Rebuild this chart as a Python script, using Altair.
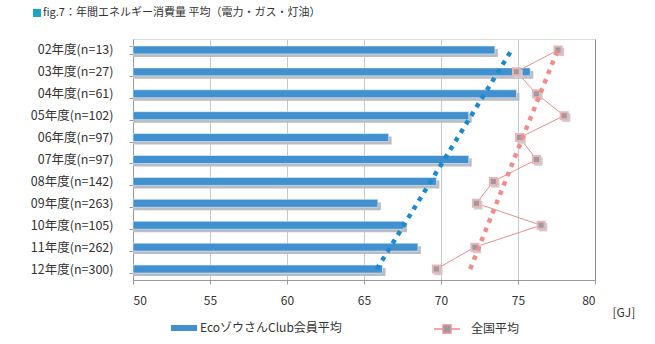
import altair as alt
import pandas as pd

cats = ["02年度(n=13)", "03年度(n=27)", "04年度(n=61)", "05年度(n=102)", "06年度(n=97)",
        "07年度(n=97)", "08年度(n=142)", "09年度(n=263)", "10年度(n=105)", "11年度(n=262)",
        "12年度(n=300)"]
eco = [73.5, 75.8, 74.9, 71.8, 66.6, 71.8, 69.7, 65.9, 67.6, 68.5, 66.2]
nat = [77.6, 74.9, 76.2, 78.0, 75.1, 76.2, 73.4, 72.3, 76.5, 72.2, 69.7]
s1 = "EcoゾウさんClub会員平均"
s2 = "全国平均"
x_ticks = [50, 55, 60, 65, 70, 75, 80]
title_text = "fig.7：年間エネルギー消費量 平均（電力・ガス・灯油）"

FONT = "Noto Sans CJK JP"
BLUE = "#4190cf"
SHADOW = "#b9bdc3"
BLUE_TREND = "#1a8bcb"
RED_TREND = "#f08c8a"
RED_LINE = "#e8908c"
MARK_FILL = "#9a9aa2"
MARK_STROKE = "#eab4b4"

df = pd.DataFrame({"cat": cats, "idx": list(range(len(cats))), "eco": eco, "nat": nat,
                   "s1": [s1] * len(cats), "s2": [s2] * len(cats)})

base = alt.Chart(df)

xscale = alt.Scale(domain=[50, 80], nice=False, zero=False)
xaxis = alt.Axis(values=x_ticks, grid=True, tickSize=4, tickColor="#999999", domainColor="#999999",
                 gridColor={"condition": {"test": "datum.value === 80", "value": "#8a8a8a"},
                            "value": "#c8c8c8"},
                 labelFontSize=12, labelColor="#333333", labelFont=FONT, labelPadding=11,
                 title="[GJ]", titleFont=FONT, titleFontSize=12, titleFontWeight="normal",
                 titleColor="#333333", titleX=479, titleY=32, titleAlign="left",
                 titleBaseline="middle", titleAngle=0)


def X(field):
    return alt.X(field, scale=xscale, axis=xaxis)


band = alt.Scale(domain=cats, paddingInner=0.636, paddingOuter=0.318)
yaxis = alt.Axis(title=None, tickBand="extent", tickSize=4, tickColor="#999999",
                 domainColor="#999999", labelFontSize=12.5, labelColor="#333333",
                 labelFont=FONT, labelPadding=16, grid=False)

shadow = base.mark_bar(color=SHADOW, xOffset=3, yOffset=3).encode(
    y=alt.Y("cat:N", scale=band, axis=yaxis),
    x=X("eco:Q"),
    x2=alt.datum(50),
)

bars = base.mark_bar(stroke="#eaf2fa", strokeWidth=0.6).encode(
    y=alt.Y("cat:N", scale=band, axis=None),
    x=X("eco:Q"),
    x2=alt.datum(50),
    fill=alt.Fill("s1:N", scale=alt.Scale(domain=[s1], range=[BLUE]),
                  legend=alt.Legend(orient="none", legendX=38, legendY=276, title=None,
                                    padding=0, symbolType="M-1,-0.23H1V0.23H-1Z",
                                    symbolSize=676, symbolStrokeWidth=0, labelOffset=3,
                                    labelFont=FONT, labelFontSize=12, labelColor="#333333")),
)

yq = alt.Scale(domain=[-0.5, 10.5], reverse=True, nice=False, zero=False)

natline = base.mark_line(strokeWidth=1).encode(
    y=alt.Y("idx:Q", scale=yq, axis=None),
    x=X("nat:Q"),
    order="idx:Q",
    stroke=alt.Stroke("s2:N", scale=alt.Scale(domain=[s2], range=[RED_LINE]),
                      legend=alt.Legend(orient="none", legendX=300, legendY=276, title=None,
                                        padding=0,
                                        symbolType="M-1,0H-0.3M0.3,0H1M-0.3,-0.3H0.3V0.3H-0.3Z",
                                        symbolSize=676, symbolStrokeWidth=1.5,
                                        symbolFillColor=MARK_FILL, labelOffset=10,
                                        labelFont=FONT, labelFontSize=12,
                                        labelColor="#333333")),
)

mshadow = base.mark_square(size=70, color="#cdcdd2", opacity=1, xOffset=2, yOffset=2).encode(
    y=alt.Y("idx:Q", scale=yq, axis=None),
    x=X("nat:Q"),
)

markers = base.mark_square(size=49, fill=MARK_FILL, stroke=MARK_STROKE, strokeWidth=2,
                           opacity=1, filled=True).encode(
    y=alt.Y("idx:Q", scale=yq, axis=None),
    x=X("nat:Q"),
)

eco_trend = base.transform_regression("idx", "eco", method="linear").mark_line(
    color=BLUE_TREND, strokeWidth=4.5, strokeDash=[4.5, 5.5], strokeCap="butt").encode(
    y=alt.Y("idx:Q", scale=yq, axis=None),
    x=X("eco:Q"),
)

nat_trend = base.transform_regression("idx", "nat", method="linear").mark_line(
    color=RED_TREND, strokeWidth=4.5, strokeDash=[4.5, 5.5], strokeCap="butt").encode(
    y=alt.Y("idx:Q", scale=yq, axis=None),
    x=X("nat:Q"),
)

one = pd.DataFrame({"k": [0]})
title_sq = alt.Chart(one).mark_square(size=64, color="#1aa6c2", opacity=1, filled=True).encode(
    x=alt.value(-96), y=alt.value(-26))
title_tx = alt.Chart(one).mark_text(align="left", baseline="middle", font=FONT, fontSize=11,
                                    color="#333333").encode(
    x=alt.value(-90), y=alt.value(-26), text=alt.value(title_text))

chart = alt.layer(shadow, bars, natline, mshadow, markers, eco_trend, nat_trend,
                  title_sq, title_tx).resolve_scale(y="independent").properties(
    width=462, height=241,
    autosize=alt.AutoSizeParams(type="none"),
    padding={"left": 133, "top": 39, "right": 60, "bottom": 64},
).configure_view(stroke=None).configure(background="white")

chart.save("out.html", embed_options={"renderer": "svg", "actions": False})
